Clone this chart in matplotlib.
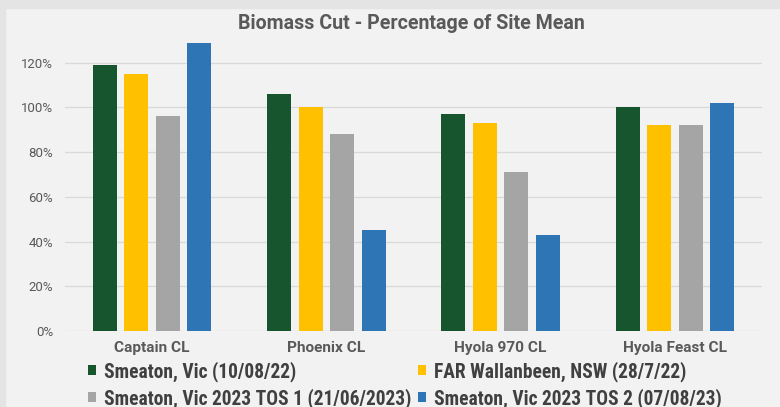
import matplotlib
matplotlib.use("Agg")
import matplotlib.pyplot as plt
from matplotlib import font_manager as fm
from matplotlib.patches import Rectangle, Patch
import numpy as np

# ---- data ----
categories = ["Captain CL", "Phoenix CL", "Hyola 970 CL", "Hyola Feast CL"]
series_names = ["Smeaton, Vic (10/08/22)", "FAR Wallanbeen, NSW (28/7/22)",
                "Smeaton, Vic 2023 TOS 1 (21/06/2023)", "Smeaton, Vic 2023 TOS 2 (07/08/23)"]
smeaton_22 = [1.19, 1.06, 0.97, 1.00]
far_wallanbeen_22 = [1.15, 1.00, 0.93, 0.92]
smeaton_23_tos1 = [0.96, 0.88, 0.71, 0.92]
smeaton_23_tos2 = [1.29, 0.45, 0.43, 1.02]
y_ticks = [0, 0.2, 0.4, 0.6, 0.8, 1.0, 1.2]
y_tick_labels = ["0%", "20%", "40%", "60%", "80%", "100%", "120%"]
title = "Biomass Cut - Percentage of Site Mean"

colors = ["#17552f", "#ffc000", "#a5a5a5", "#2e75b6"]
series = [smeaton_22, far_wallanbeen_22, smeaton_23_tos1, smeaton_23_tos2]

names = {f.name for f in fm.fontManager.ttflist}
cond = "Roboto Condensed" if "Roboto Condensed" in names else "Roboto"
plt.rcParams["font.family"] = ["Roboto", "DejaVu Sans"]

W, H = 780, 407
fig = plt.figure(figsize=(W / 100, H / 100), dpi=100, facecolor="#f2f2f2")
renderer = fig.canvas.get_renderer()


def fit_size(text, target_px, base=10, **kw):
    t = fig.text(0, 0, text, fontsize=base, **kw)
    w = t.get_window_extent(renderer).width
    t.remove()
    return base * target_px / w


fig.patches.append(Rectangle((0, 1 - 8 / H), 1, 8 / H, transform=fig.transFigure,
                             color="#e4e4e4", zorder=0))
fig.patches.append(Rectangle((0, 0), 5 / W, 1, transform=fig.transFigure,
                             color="#e4e4e4", zorder=0))

ax_left, ax_right = 65, 762
y0_px = 331
ymax = 1.35
px_per_unit = 223.6
top_px = y0_px - ymax * px_per_unit
ax = fig.add_axes([ax_left / W, (H - y0_px) / H, (ax_right - ax_left) / W, (y0_px - top_px) / H])
ax.set_facecolor("#f2f2f2")

x = np.arange(len(categories))
step, width = 0.181, 0.138
for i, (vals, c) in enumerate(zip(series, colors)):
    ax.bar(x + (i - 1.5) * step, vals, width=width, color=c, zorder=3, label=series_names[i])

cat_size = fit_size("Captain CL", 76, fontweight="bold", family=["Roboto"])
tick_size = fit_size("120%", 32, family=["Roboto"])
title_size = fit_size(title, 348, fontweight="bold", family=["Roboto"])
leg_size = fit_size("Smeaton, Vic (10/08/22)", 193, fontweight="bold", family=[cond])

ax.set_xlim(-0.5, 3.5)
ax.set_ylim(0, ymax)
ax.set_yticks(y_ticks)
ax.set_yticklabels(y_tick_labels)
ax.set_xticks(x)
ax.set_xticklabels(categories, fontweight="bold", color="#595959", fontsize=cat_size)
ax.tick_params(axis="x", length=0, pad=7)
ax.tick_params(axis="y", length=0, pad=8.5, labelsize=tick_size, labelcolor="#595959")
ax.grid(axis="y", color="#d9d9d9", linewidth=0.9, zorder=0)
for s in ax.spines.values():
    s.set_visible(False)

fig.text(411 / W, 1 - 29 / H, title, ha="center", va="baseline",
         fontsize=title_size, fontweight="bold", color="#595959")

handles = [Patch(facecolor=c, edgecolor="none") for c in colors]
order = [0, 2, 1, 3]
leg = fig.legend([handles[i] for i in order], [series_names[i] for i in order],
                 ncol=2, loc="upper left", bbox_to_anchor=(88 / W, 1 - 361 / H),
                 frameon=False, handlelength=0.42, handleheight=0.42, handletextpad=0.42,
                 columnspacing=0.3, labelspacing=0.32, borderpad=0, borderaxespad=0,
                 prop={"size": leg_size, "weight": "bold", "family": [cond]})
for t in leg.get_texts():
    t.set_color("#404040")

fig.savefig("out.png", dpi=100, facecolor=fig.get_facecolor())
